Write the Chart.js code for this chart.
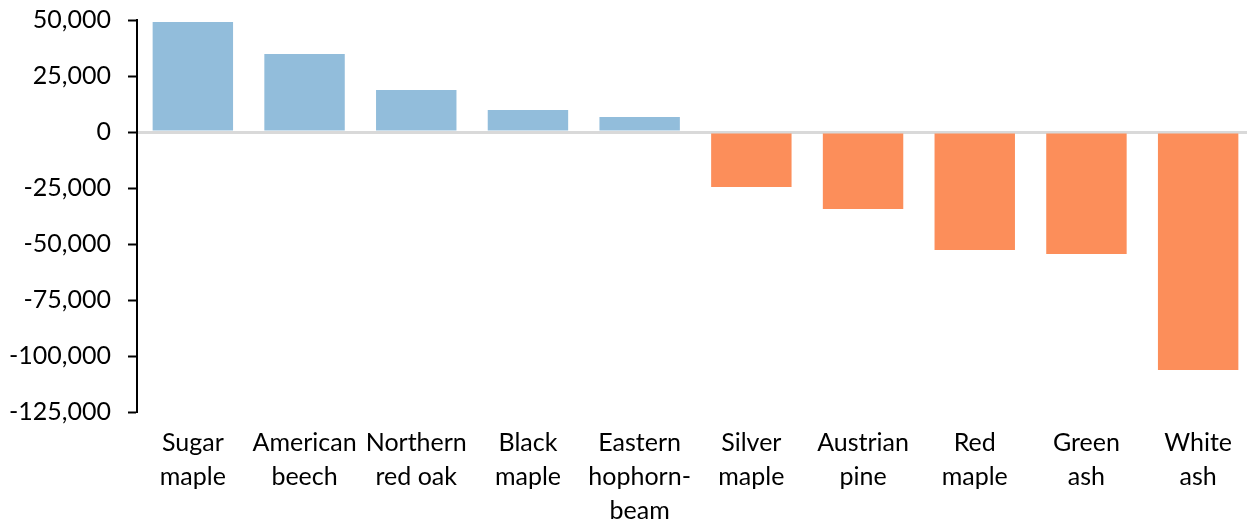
<!DOCTYPE html>
<html>
<head>
<meta charset="utf-8">
<script src="https://cdn.jsdelivr.net/npm/chart.js@4/dist/chart.umd.min.js"></script>
<style>
  html, body { margin: 0; padding: 0; background: #fff; overflow: hidden; }
  #wrap { width: 1247px; height: 522px; overflow: hidden; }
  #chart { display: block; }
</style>
</head>
<body>
<div id="wrap"><canvas id="chart" width="1254" height="522"></canvas></div>
<script>
// Net change by species (positive = gain, negative = loss)
const species = [
  ['Sugar', 'maple'],
  ['American', 'beech'],
  ['Northern', 'red oak'],
  ['Black', 'maple'],
  ['Eastern', 'hophorn-', 'beam'],
  ['Silver', 'maple'],
  ['Austrian', 'pine'],
  ['Red', 'maple'],
  ['Green', 'ash'],
  ['White', 'ash']
];
const netChange = [49100, 34800, 18700, 9800, 6700, -24600, -34400, -52700, -54500, -106300];

const yMin = -125000;
const yMax = 50000;
const yStep = 25000;

const gainColor = '#92BDDB';
const lossColor = '#FC8E5A';

const fontFamily = 'Lato, "Open Sans", sans-serif';

new Chart(document.getElementById('chart'), {
  type: 'bar',
  data: {
    labels: species,
    datasets: [{
      data: netChange,
      backgroundColor: netChange.map(v => v >= 0 ? gainColor : lossColor),
      borderWidth: 0,
      categoryPercentage: 1.0,
      barPercentage: 0.72
    }]
  },
  options: {
    responsive: false,
    animation: false,
    devicePixelRatio: 1,
    layout: { padding: { top: 0, right: 0, left: 0, bottom: 0 } },
    plugins: {
      legend: { display: false },
      tooltip: { enabled: false }
    },
    scales: {
      x: {
        grid: { display: false, drawTicks: false },
        border: { display: false },
        ticks: {
          color: '#000',
          font: { family: fontFamily, size: 25, lineHeight: 1.36 },
          padding: 14,
          maxRotation: 0,
          autoSkip: false
        },
        afterFit: scale => { scale.height = 110; }
      },
      y: {
        min: yMin,
        max: yMax,
        border: { display: true, color: '#000', width: 2 },
        grid: {
          drawOnChartArea: true,
          color: ctx => (ctx.tick && ctx.tick.value === 0) ? '#D9D9D9' : 'rgba(0,0,0,0)',
          lineWidth: ctx => (ctx.tick && ctx.tick.value === 0) ? 3 : 1,
          tickColor: '#000',
          tickWidth: 2,
          tickLength: 9
        },
        ticks: {
          stepSize: yStep,
          color: '#000',
          font: { family: fontFamily, size: 25 },
          padding: 17,
          callback: v => v.toLocaleString('en-US')
        },
        afterFit: scale => { scale.width = 137; scale.paddingTop = 20; }
      }
    }
  }
});
</script>
</body>
</html>
